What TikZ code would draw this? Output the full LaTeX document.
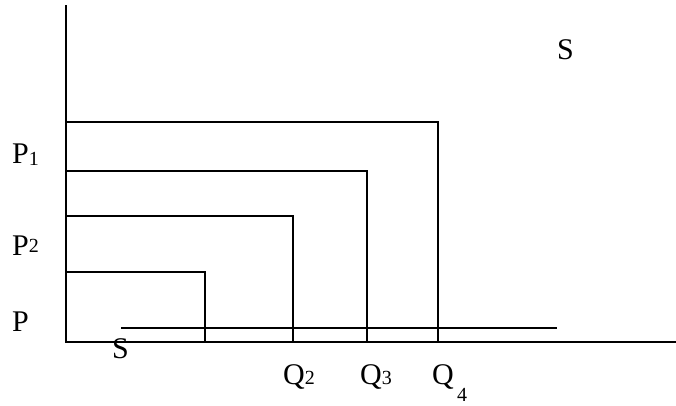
\documentclass[tikz,border=0pt]{standalone}
\usepackage{fontspec}
\setmainfont{Liberation Serif}
\newcommand{\lblsub}[3]{#1\raisebox{#3}{\fontsize{20}{20}\selectfont #2}}
\begin{document}
\begin{tikzpicture}
[linedecorate/.style={-,line width=1.8pt},%
  labeldecorate/.style={anchor=base west,inner sep=0pt,font=\fontsize{30}{35}\selectfont},%
  x=1pt,y=-1pt]
\useasboundingbox (0,0) rectangle (676,405);
%% axes
\coordinate (origin) at (66,342);
\coordinate (axistop) at (66,5);
\coordinate (axisright) at (676,342);
\draw[linedecorate] (axistop) -- (origin) -- (axisright);
%% supply line
\coordinate (sstart) at (121,328);
\coordinate (send) at (557,328);
\draw[linedecorate] (sstart) -- (send);
%% price and quantity steps
\foreach \stepname/\x/\y in {a/205/272, b/293/216, c/367/171, d/438/122} {
  \coordinate (\stepname left) at (66,\y);
  \coordinate (\stepname corner) at (\x,\y);
  \coordinate (\stepname base) at (\x,342);
  \draw[linedecorate] (\stepname left) -- (\stepname corner) -- (\stepname base);
}
%% labels
\foreach \nodename/\x/\y/\txt in {p1/12/163/{\lblsub{P}{1}{-2pt}},
  p2/12/255/{\lblsub{P}{2}{3pt}}, p/12/331/{P}, sbot/112/358/{S},
  stop/557/59/{S}, q2/283/384/{\lblsub{Q}{2}{0pt}},
  q3/360/384/{\lblsub{Q}{3}{0pt}}, q4/432/384/{\lblsub{Q}{\,4}{-17pt}}} {
  \node (\nodename) at (\x,\y) [labeldecorate] {\txt};
}
\end{tikzpicture}
\end{document}
